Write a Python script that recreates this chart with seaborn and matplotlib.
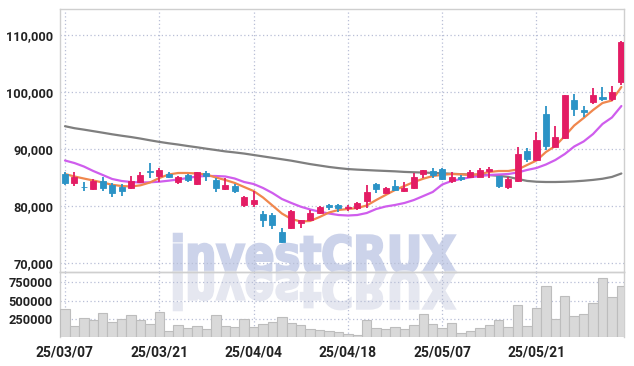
import numpy as np
import pandas as pd
import matplotlib
matplotlib.use("Agg")
import matplotlib.pyplot as plt
import seaborn as sns
from matplotlib import font_manager
from matplotlib.font_manager import FontProperties
from matplotlib.textpath import TextPath
from matplotlib.patches import PathPatch
from matplotlib.transforms import Affine2D
from matplotlib.ticker import FuncFormatter

# daily candles (KRW)
opens = [85600, 84100, 83400, 82950, 84400, 83700, 83300, 83100, 84200, 86150,
         85300, 85600, 84250, 85400, 83800, 85800, 84550, 82950, 83500, 80200,
         80350, 78600, 78400, 75500, 76200, 77050, 77550, 78700, 80200, 80200,
         79600, 79600, 80950, 83850, 82350, 83500, 82650, 83100, 85550, 86150,
         86500, 84300, 85150, 85050, 85050, 86150, 85250, 83400, 84450, 89700,
         88050, 96150, 90400, 91900, 98600, 96850, 98300, 99050, 98750, 101700]
highs = [86000, 85900, 84250, 84750, 85150, 84000, 83800, 85250, 85900, 87500,
         86600, 86000, 85250, 85600, 86000, 86150, 84850, 84950, 83850, 81750,
         82700, 79100, 78800, 76200, 79300, 77600, 79300, 80000, 80350, 80300,
         80200, 80750, 83700, 84050, 83350, 84550, 84250, 85800, 86400, 86600,
         86650, 85950, 85450, 86300, 86600, 86900, 85300, 85050, 90400, 90100,
         92900, 97550, 94100, 99550, 99600, 97550, 100750, 100950, 101100, 109000]
lows = [83700, 83550, 82700, 82800, 82700, 81650, 81750, 82950, 84000, 84850,
        84250, 84950, 83800, 84150, 83700, 84400, 82500, 82800, 82200, 79750,
        79900, 76250, 75900, 73450, 76050, 76100, 77500, 78550, 79300, 79000,
        79200, 79300, 79600, 82200, 82100, 82700, 82500, 83000, 84850, 84850,
        84550, 84100, 84450, 84850, 85050, 84850, 83200, 82950, 84250, 87650,
        88000, 89800, 90300, 91750, 95800, 95650, 97900, 98450, 98450, 101250]
closes = [84100, 85100, 83300, 84450, 83200, 82200, 82700, 84400, 85500, 85900,
          86300, 85150, 85050, 84550, 85900, 85250, 83100, 83700, 82650, 81550,
          81050, 77550, 76650, 73750, 79100, 77550, 78800, 79750, 79900, 79600,
          79900, 80600, 82400, 82950, 83100, 82800, 83200, 85150, 86300, 85450,
          84700, 85150, 84700, 86000, 86300, 86500, 83500, 84750, 89100, 88250,
          91600, 90550, 92150, 99450, 97000, 96550, 99450, 98700, 100050, 108700]
volumes = [385000, 157000, 262000, 239000, 331000, 208000, 249000, 303000, 239000, 184000,
           344000, 85000, 171000, 130000, 157000, 116000, 303000, 157000, 143000, 249000,
           143000, 184000, 208000, 280000, 194000, 171000, 112000, 102000, 89000, 71000,
           48000, 34000, 239000, 126000, 112000, 143000, 116000, 171000, 321000, 184000,
           130000, 198000, 61000, 89000, 130000, 171000, 239000, 143000, 444000, 157000,
           403000, 703000, 253000, 567000, 294000, 321000, 471000, 813000, 553000, 703000]

# moving average lines as drawn on the chart
ma_short = [85610, 85180, 84820, 84470, 84120, 83720, 83510, 83420, 83630, 84120,
            84910, 85530, 85790, 85790, 85700, 85530, 85000, 84560, 84040, 83330,
            82630, 81490, 80090, 78680, 77720, 77280, 77370, 78070, 78860, 79300,
            79470, 79650, 80090, 81050, 81930, 82810, 83510, 84210, 84790, 85260,
            85470, 85610, 85560, 85440, 85610, 85970, 86140, 86140, 86400, 87190,
            87980, 89470, 90530, 92280, 94120, 95440, 96840, 98070, 98510, 100880]
ma_mid = [87980, 87540, 86930, 86140, 85440, 84740, 84390, 84210, 84120, 84160,
          84260, 84440, 84650, 84910, 85180, 85260, 85260, 85180, 84820, 84210,
          83860, 83160, 82280, 81230, 80530, 79880, 79390, 79000, 78680, 78420,
          78330, 78420, 78770, 79470, 79910, 80180, 80530, 81050, 81750, 82460,
          83770, 84390, 84740, 85040, 85260, 85440, 85530, 85610, 85880, 86320,
          86670, 87280, 88070, 89120, 90440, 91320, 92630, 94390, 95530, 97540]
ma_long = [94000, 93650, 93400, 93130, 92860, 92580, 92330, 92100, 91830, 91530,
           91250, 91000, 90780, 90530, 90300, 90050, 89820, 89580, 89400, 89200,
           88950, 88700, 88450, 88200, 87950, 87650, 87350, 87100, 86850, 86650,
           86480, 86380, 86300, 86220, 86150, 86080, 85980, 85920, 85870, 85800,
           85740, 85660, 85580, 85520, 85470, 85420, 85300, 85100, 84750, 84400,
           84260, 84210, 84210, 84250, 84320, 84430, 84580, 84780, 85100, 85700]

tick_idx = [0, 10, 20, 30, 40, 50]
tick_dates = ["25/03/07", "25/03/21", "25/04/04", "25/04/18", "25/05/07", "25/05/21"]
price_ticks = [70000, 80000, 90000, 100000, 110000]
volume_ticks = [250000, 500000, 750000]

UP = "#e31c64"
DOWN = "#2b93c6"
GRID = "#b8bfd6"
FRAME = "#cfcfcf"

sns.set_style("white")
installed = {f.name for f in font_manager.fontManager.ttflist}
label_font = "Roboto" if "Roboto" in installed else "Liberation Sans"
plt.rcParams["font.family"] = [label_font, "DejaVu Sans"]

df = pd.DataFrame({"idx": np.arange(len(closes)), "open": opens, "high": highs,
                   "low": lows, "close": closes, "volume": volumes})
df["color"] = np.where(df["close"] >= df["open"], UP, DOWN)

W, H = 634, 366
fig = plt.figure(figsize=(W / 100, H / 100), dpi=100)
ax = fig.add_axes([60 / W, 94 / H, 564 / W, (H - 9.3 - 94) / H])
axv = fig.add_axes([60 / W, 28.7 / H, 564 / W, (94 - 28.7) / H], sharex=ax)
for a in (ax, axv):
    a.set_facecolor("none")

# watermark with its mirror image, under the grid
wm = TextPath((0, 0), "investCRUX", size=100, prop=FontProperties(family="DejaVu Sans", weight="bold"))
ext = wm.get_extents()
sx = (455 - 174) / ext.width
sy = 38 / ext.y1
front = Affine2D().translate(-ext.x0, 0).scale(sx, sy).translate(174, H - 272)
mirror = Affine2D().translate(-ext.x0, 0).scale(sx, -sy).translate(174, H - 272)
fig.add_artist(PathPatch(wm, transform=front, facecolor="#ccd3ea", edgecolor="#ccd3ea",
                         linewidth=1.8, zorder=-1))
fig.add_artist(PathPatch(wm, transform=mirror, facecolor="#e5e7f0", edgecolor="#e5e7f0",
                         linewidth=1.8, zorder=-1))

# moving averages
sns.lineplot(x=df["idx"], y=ma_long, ax=ax, color="#7f7f7f", linewidth=1.6, zorder=2)
sns.lineplot(x=df["idx"], y=ma_mid, ax=ax, color="#cf5ded", linewidth=1.6, zorder=2)
sns.lineplot(x=df["idx"], y=ma_short, ax=ax, color="#f0874d", linewidth=1.6, zorder=2)

# candles
body_lo = df[["open", "close"]].min(axis=1)
body_h = (df["close"] - df["open"]).abs().clip(lower=120)
ax.vlines(df["idx"], df["low"], df["high"], colors=df["color"], linewidth=1.3, zorder=3)
ax.bar(df["idx"], body_h, bottom=body_lo, width=0.64, color=df["color"],
       edgecolor=df["color"], linewidth=0.6, zorder=4)

# volume
sns.barplot(data=df, x="idx", y="volume", native_scale=True, width=1.0, errorbar=None,
            color="#d9d9d9", saturation=1, edgecolor="#bdbdbd", linewidth=0.8, ax=axv, zorder=3)

ax.set_xlim(-0.53, 59.28)
ax.set_ylim(68420, 114510)
axv.set_ylim(0, 892000)

ax.set_yticks(price_ticks)
ax.yaxis.set_major_formatter(FuncFormatter(lambda v, p: f"{v:,.0f}"))
axv.set_yticks(volume_ticks)
axv.yaxis.set_major_formatter(FuncFormatter(lambda v, p: f"{v:.0f}"))
axv.set_xticks(tick_idx)
axv.set_xticklabels(tick_dates)
ax.tick_params(labelbottom=False)

for a in (ax, axv):
    a.set_xlabel("")
    a.set_ylabel("")
    a.grid(True, linestyle=(0, (1, 2)), color=GRID, linewidth=0.9)
    a.set_axisbelow(True)
    a.tick_params(length=0, pad=5, labelsize=9.2, labelcolor="#222222")
    for s in a.spines.values():
        s.set_color(FRAME)
        s.set_linewidth(1)
axv.spines["bottom"].set_visible(False)
axv.tick_params(axis="x", labelsize=10, pad=6)
for lab in ax.get_yticklabels() + axv.get_yticklabels() + axv.get_xticklabels():
    lab.set_fontweight("bold")

fig.savefig("out.png", dpi=100)
